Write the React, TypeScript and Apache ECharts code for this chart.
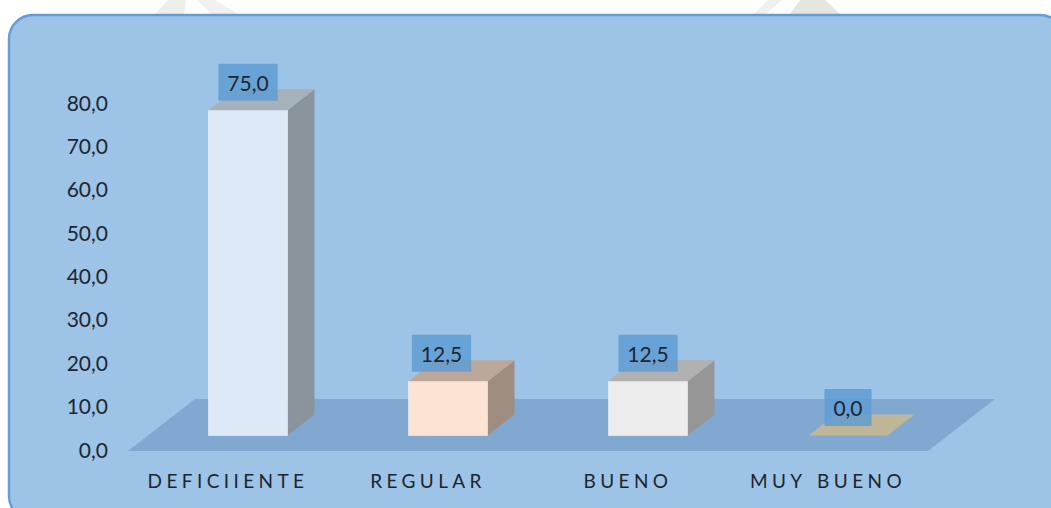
import React, { useEffect, useRef } from "react";
import * as echarts from "echarts";

const categories = ["DEFICIIENTE", "REGULAR", "BUENO", "MUY BUENO"];
const values = [75.0, 12.5, 12.5, 0.0];
const valueLabels = ["75,0", "12,5", "12,5", "0,0"];
const frontColors = ["#DEE9F7", "#FDE3D4", "#EDEDED", "#FBE5C0"];
const topColors = ["#A6B1BA", "#BBA89A", "#B1B1B1", "#BFB697"];
const sideColors = ["#8A949C", "#9E8D80", "#969696", "#A09880"];

const FLOOR = "#81A8D0";
const PANEL = "#9DC3E6";
const LABEL_BOX = "rgba(91,155,213,0.8)";
const INK = "#1C2630";
const DX = 27;
const DY = 21;
const LIFT = 13.5;
const SHIFT = 20;
const BAR_W = 79;

export default function App() {
  const ref = useRef<HTMLDivElement>(null);
  useEffect(() => {
    document.body.style.margin = "0";
    const chart = echarts.init(ref.current!, null, { renderer: "svg" });
    const renderFloor = (params: any) => {
      const c = params.coordSys;
      const base = c.y + c.height + 2;
      return {
        type: "polygon",
        silent: true,
        shape: {
          points: [
            [c.x, base],
            [c.x + c.width, base],
            [c.x + c.width + 67, base - 52],
            [c.x + 67, base - 52],
          ],
        },
        style: { fill: FLOOR },
      };
    };
    const renderBar = (params: any, api: any) => {
      const i = params.dataIndex;
      const base = api.coord([i, 0]);
      const head = api.coord([i, api.value(1)]);
      const x = base[0] + SHIFT - BAR_W / 2;
      const y0 = base[1] - LIFT;
      const y1 = head[1] - LIFT;
      const children: any[] = [];
      if (y0 - y1 > 0.5) {
        children.push({
          type: "polygon",
          shape: { points: [[x + BAR_W, y1], [x + BAR_W + DX, y1 - DY], [x + BAR_W + DX, y0 - DY], [x + BAR_W, y0]] },
          style: { fill: sideColors[i] },
        });
        children.push({
          type: "rect",
          shape: { x, y: y1, width: BAR_W, height: y0 - y1 },
          style: { fill: frontColors[i], stroke: "rgba(255,255,255,0.45)", lineWidth: 1 },
        });
      }
      children.push({
        type: "polygon",
        shape: { points: [[x, y1], [x + BAR_W, y1], [x + BAR_W + DX, y1 - DY], [x + DX, y1 - DY]] },
        style: { fill: topColors[i] },
      });
      children.push({
        type: "text",
        style: {
          text: valueLabels[i],
          x: x + BAR_W / 2 - (i === 1 ? 6.5 : 0),
          y: y1 - 28,
          align: "center",
          verticalAlign: "middle",
          fill: INK,
          font: "21px Lato",
          backgroundColor: LABEL_BOX,
          padding: [7, 9, 9, 9],
        },
      });
      return { type: "group", children };
    };
    chart.setOption({
      animation: false,
      graphic: [
        {
          type: "polygon",
          z: -1,
          silent: true,
          shape: { points: [[155, 14], [168, 0], [186, 0], [184, 14]] },
          style: { fill: "#EEEFEB" },
        },
        {
          type: "polygon",
          z: -1,
          silent: true,
          shape: { points: [[197, 0], [215, 0], [238, 14], [212, 14]] },
          style: { fill: "#F0F1EE" },
        },
        {
          type: "polygon",
          z: -1,
          silent: true,
          shape: { points: [[754, 14], [768, 0], [782, 0], [766, 14]] },
          style: { fill: "#F0F1EE" },
        },
        {
          type: "polygon",
          z: -1,
          silent: true,
          shape: { points: [[790, 14], [800, 0], [825, 0], [840, 14]] },
          style: { fill: "#E4E6E0" },
        },
        {
          type: "rect",
          z: -1,
          silent: true,
          shape: { x: 9, y: 15, width: 1055, height: 505, r: 24 },
          style: { fill: PANEL, stroke: "#639DD7", lineWidth: 2.5 },
        },
      ],
      grid: { left: 128, width: 800, top: 102, height: 347 },
      xAxis: {
        type: "category",
        data: categories,
        axisLine: { show: false },
        axisTick: { show: false },
        axisLabel: { color: INK, fontFamily: "Lato", fontSize: 19, margin: 22 },
      },
      yAxis: {
        type: "value",
        min: 0,
        max: 80,
        interval: 10,
        splitLine: { show: false },
        axisLine: { show: false },
        axisTick: { show: false },
        axisLabel: {
          color: INK,
          fontFamily: "Lato",
          fontSize: 21,
          margin: 20,
          formatter: (v: number) => v.toFixed(1).replace(".", ","),
        },
      },
      series: [
        {
          type: "custom",
          coordinateSystem: "cartesian2d",
          silent: true,
          z: 1,
          clip: false,
          renderItem: renderFloor,
          data: [[0, 0]],
        },
        {
          type: "custom",
          coordinateSystem: "cartesian2d",
          silent: true,
          z: 2,
          clip: false,
          renderItem: renderBar,
          encode: { x: 0, y: 1 },
          data: values.map((v, i) => [i, v]),
        },
      ],
    });
    const spaceLabels = () => {
      ref.current?.querySelectorAll("text").forEach((t) => {
        if (categories.includes(t.textContent || "")) {
          const s = (t as SVGTextElement).style;
          s.letterSpacing = "4.4px";
          s.wordSpacing = "2px";
        }
      });
    };
    spaceLabels();
    chart.on("finished", spaceLabels);
    return () => chart.dispose();
  }, []);
  return <div ref={ref} style={{ width: 1051, height: 508, background: "#fff" }} />;
}
